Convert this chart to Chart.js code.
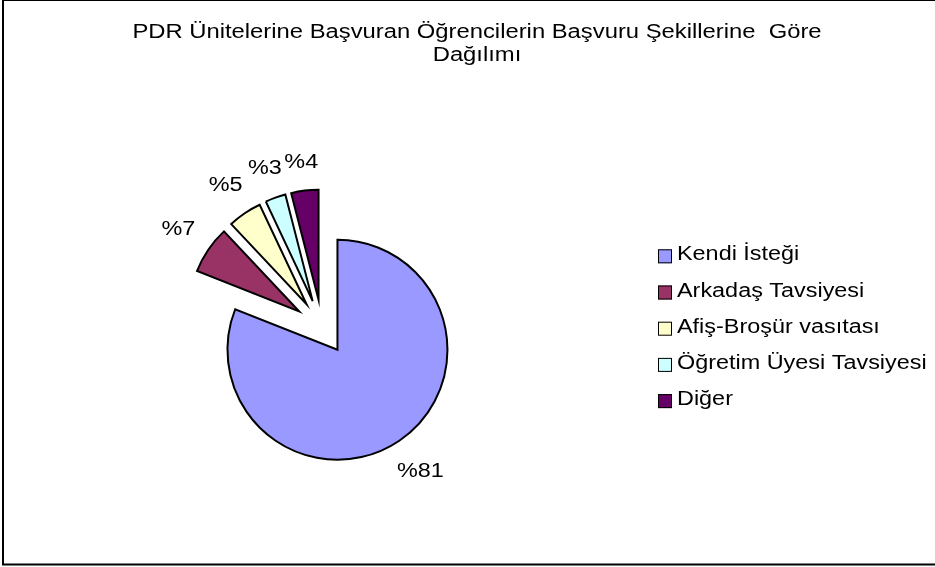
<!DOCTYPE html>
<html>
<head>
<meta charset="utf-8">
<script src="https://cdn.jsdelivr.net/npm/chart.js@4.4.1/dist/chart.umd.min.js"></script>
<style>
  html, body { margin: 0; padding: 0; background: #fff; }
  canvas { display: block; }
</style>
</head>
<body>
<canvas id="pieChart" width="935" height="567"></canvas>
<script>
const titleLines = ["PDR Ünitelerine Başvuran Öğrencilerin Başvuru Şekillerine  Göre", "Dağılımı"];
const categories = ["Kendi İsteği", "Arkadaş Tavsiyesi", "Afiş-Broşür vasıtası", "Öğretim Üyesi Tavsiyesi", "Diğer"];
const shares = [81, 7, 5, 3, 4];
const sliceColors = ["#9999FF", "#993366", "#FFFFCC", "#CCFFFF", "#660066"];

const FONT = '20px "Liberation Sans", Arial, sans-serif';
const TEXT_STRETCH = 1.17;  // the original text is wide, stretch glyphs horizontally
const TITLE_STRETCH = 1.19;
const EXPLODE = 27.5;       // px every slice is pulled away from the centre
const LABEL_GAP = 17;       // gap between rim and the % label box

// draw text stretched horizontally; align is "left" or "center"
function drawText(ctx, text, x, y, align, stretch = TEXT_STRETCH) {
  const w = ctx.measureText(text).width * stretch;
  const left = align === "center" ? x - w / 2 : x;
  ctx.save();
  ctx.translate(left, y);
  ctx.scale(stretch, 1);
  ctx.textAlign = "left";
  ctx.fillText(text, 0, 0);
  ctx.restore();
}

// Excel style "explode all": move each arc out along its bisector
const explodePlugin = {
  id: "explode",
  afterDatasetUpdate(chart, args) {
    args.meta.data.forEach(arc => {
      const mid = (arc.startAngle + arc.endAngle) / 2;
      arc.x += Math.cos(mid) * EXPLODE;
      arc.y += Math.sin(mid) * EXPLODE;
    });
  }
};

// frame, title, percentage labels and legend
const decorPlugin = {
  id: "decor",
  afterDraw(chart) {
    const ctx = chart.ctx;
    ctx.save();

    ctx.strokeStyle = "#000";
    ctx.lineWidth = 2;
    ctx.strokeRect(3, 0, 960, 564.5);

    ctx.font = FONT;
    ctx.fillStyle = "#000";
    ctx.textBaseline = "alphabetic";
    titleLines.forEach((t, i) => drawText(ctx, t, 477, 37.5 + i * 23.5, "center", TITLE_STRETCH));

    // % labels just outside each slice, pushed out by the label's own extent
    ctx.textBaseline = "middle";
    chart.getDatasetMeta(0).data.forEach((arc, i) => {
      const text = "%" + shares[i];
      const mid = (arc.startAngle + arc.endAngle) / 2;
      const dx = Math.cos(mid), dy = Math.sin(mid);
      const halfW = ctx.measureText(text).width * TEXT_STRETCH / 2;
      const halfH = 9;
      const r = arc.outerRadius + LABEL_GAP + Math.abs(dx) * halfW + Math.abs(dy) * halfH;
      drawText(ctx, text, arc.x + dx * r, arc.y + dy * r, "center");
    });

    ctx.textBaseline = "alphabetic";
    categories.forEach((name, i) => {
      const cy = 256.3 + i * 36.2;
      ctx.fillStyle = sliceColors[i];
      ctx.fillRect(658, cy - 7, 14, 14);
      ctx.strokeStyle = "#000";
      ctx.lineWidth = 1;
      ctx.strokeRect(658.5, cy - 6.5, 13, 13);
      ctx.fillStyle = "#000";
      drawText(ctx, name, 677, cy + 4, "left");
    });

    ctx.restore();
  }
};

new Chart(document.getElementById("pieChart"), {
  type: "pie",
  data: {
    labels: categories,
    datasets: [{
      data: shares,
      backgroundColor: sliceColors,
      borderColor: "#000",
      borderWidth: 2,
      borderJoinStyle: "miter"
    }]
  },
  options: {
    responsive: false,
    devicePixelRatio: 1,
    animation: false,
    events: [],
    radius: 110,
    layout: { padding: { left: 0, right: 291, top: 87, bottom: 0 } },
    plugins: {
      legend: { display: false },
      title: { display: false },
      tooltip: { enabled: false }
    }
  },
  plugins: [explodePlugin, decorPlugin]
});
</script>
</body>
</html>
